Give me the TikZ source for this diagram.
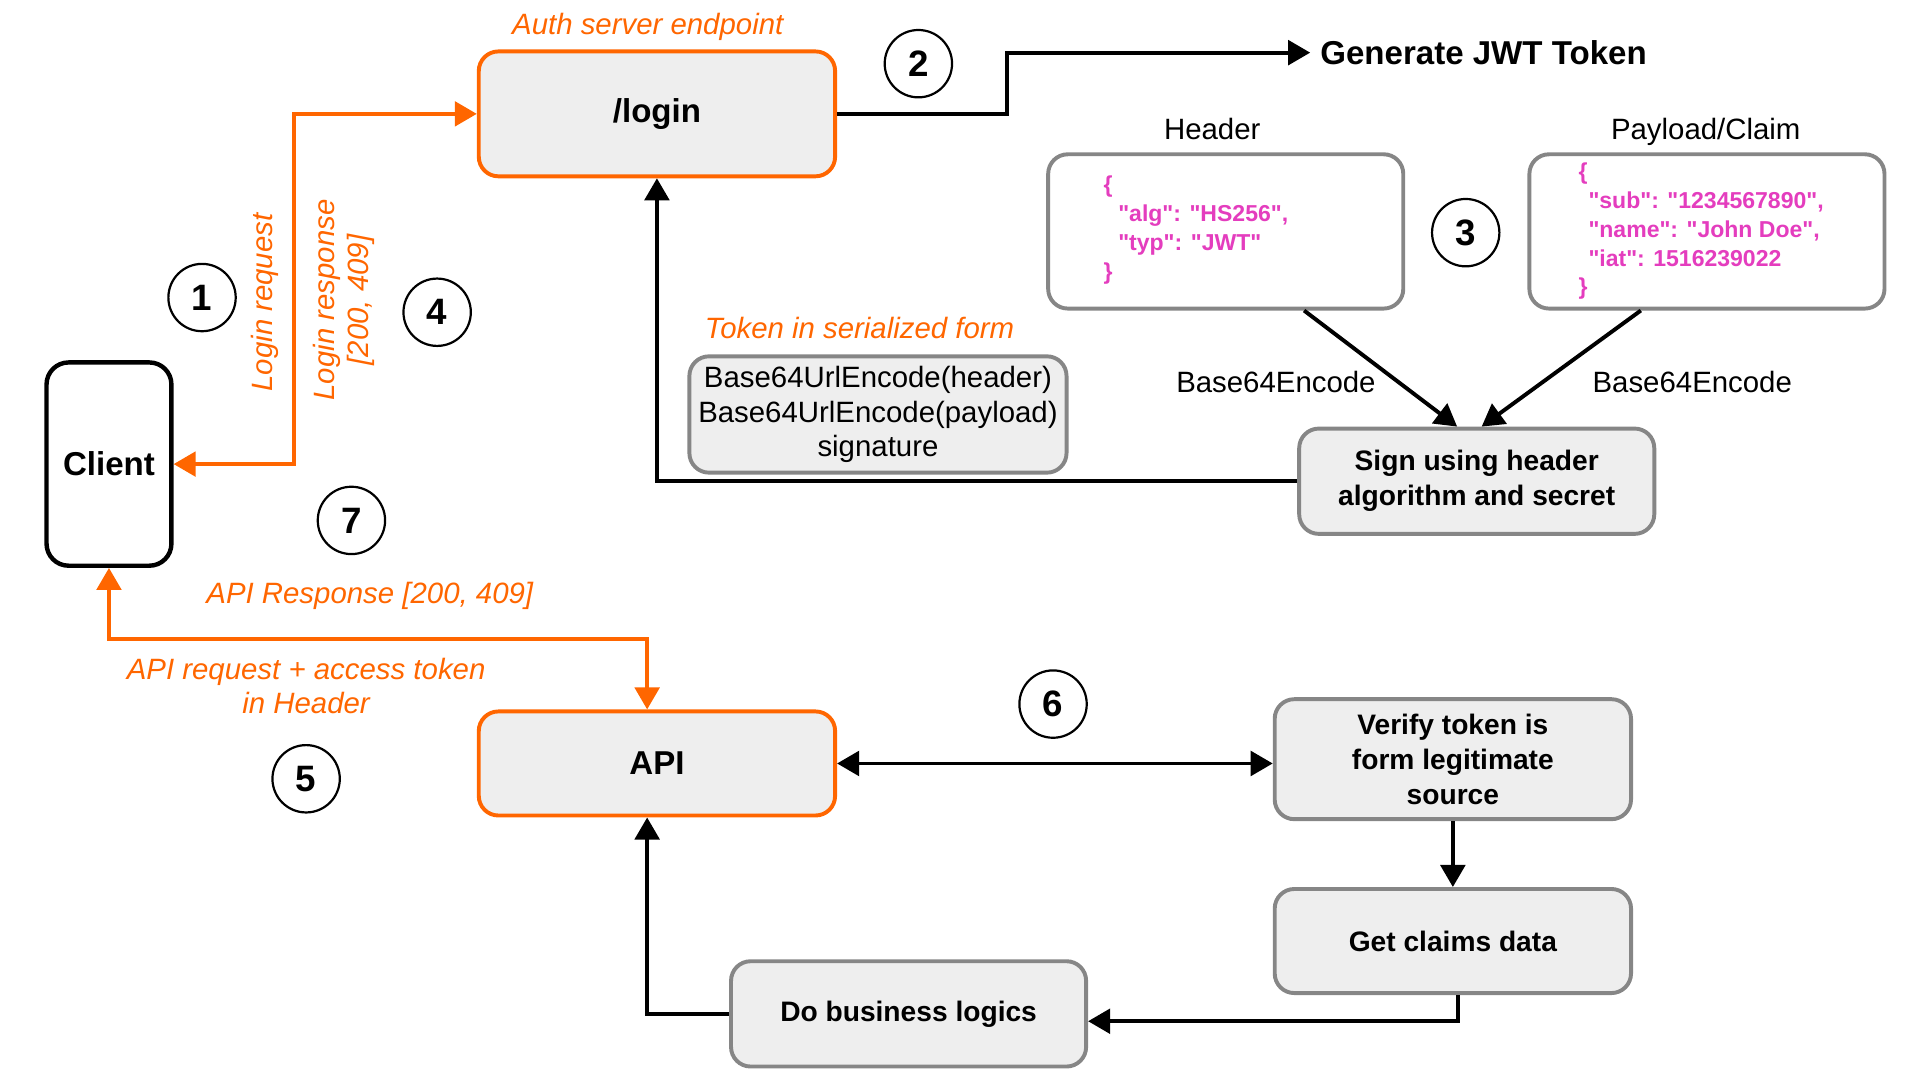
\documentclass[tikz,border=0pt]{standalone}
\usepackage{fontspec}
\setmainfont{Liberation Sans}
\newfontfamily\codefont{Liberation Sans}
\usetikzlibrary{arrows.meta,positioning,calc}
\definecolor{authorange}{HTML}{FF6600}
\definecolor{boxgray}{HTML}{868686}
\definecolor{boxfill}{HTML}{EEEEEE}
\definecolor{codepink}{HTML}{E43DBE}
\tikzset{
    -{Triangle[length=9pt,width=10pt]},
    orangebox/.style ={rectangle, rounded corners=8pt, draw=authorange, line width=1.6pt, fill=boxfill, minimum width=145.5pt, font=\fontsize{13.5}{16}\selectfont\bfseries},
    graybox/.style = {rectangle, rounded corners=8pt, draw=boxgray, line width=1.6pt, fill=boxfill, minimum width=145pt, align=center, font=\fontsize{11.5}{14.3}\selectfont\bfseries},
    codebox/.style = {graybox, fill=white, minimum height=63pt},
    code/.style = {anchor=west, align=left, text=codepink, font=\codefont\fontsize{9.4}{11.75}\selectfont\bfseries},
    num/.style = {circle, draw, line width=0.9pt, minimum size=27.5pt, inner sep=0pt, font=\fontsize{15}{15}\selectfont\bfseries},
    note/.style = {text=authorange, align=center, font=\fontsize{12}{14}\selectfont\itshape},
    lbl/.style = {align=center, font=\fontsize{12}{14.25}\selectfont},
    orangeflow/.style = {draw=authorange, {Triangle[length=9pt,width=10pt]}-{Triangle[length=9pt,width=10pt]}},
    both/.style = {{Triangle[length=9pt,width=10pt]}-{Triangle[length=9pt,width=10pt]}}
}

\begin{document}
\begin{tikzpicture}[x=0.5pt,y=-0.5pt,line width=1.6pt]

    \useasboundingbox (0,0) rectangle (1568,882);

    % auth server side
    \node[orangebox, minimum height=51pt] (login) at (536.5,93) {/login};
    \node[note] (authlbl) at (529,22) {Auth server endpoint};
    \node[anchor=west, font=\fontsize{13.5}{16}\selectfont\bfseries] (gen) at (1070,43) {Generate JWT Token};

    \node[codebox] (hdr) at (1001,189) {};
    \node[codebox] (pay) at (1394,189) {};
    \node[lbl, anchor=base] (hdrlbl) at (990,114) {Header};
    \node[lbl, anchor=base] (paylbl) at (1393,114) {Payload/Claim};
    \node[code] (hdrcode) at (893,188) {\{\\\hspace*{6pt}"alg": "HS256",\\\hspace*{6pt}"typ": "JWT"\\\}};
    \node[code] (paycode) at (1281,189) {\{\\\hspace*{4pt}"sub": "1234567890",\\\hspace*{4pt}"name": "John Doe",\\\hspace*{4pt}"iat": 1516239022\\\}};

    \node[graybox, minimum height=43pt] (sign) at (1206,393) {Sign using header\\algorithm and secret};
    \node[graybox, minimum width=154pt, minimum height=47.5pt, font=\fontsize{12}{14.25}\selectfont] (serial) at (717,338.5) {Base64UrlEncode(header)\\Base64UrlEncode(payload)\\signature};
    \node[note] (seriallbl) at (702,268) {Token in serialized form};

    \node[lbl] (enc1) at (1042,312) {Base64Encode};
    \node[lbl] (enc2) at (1382,312) {Base64Encode};

    % client
    \node[rectangle, rounded corners=9pt, draw, line width=1.8pt, fill=white, minimum width=51pt, minimum height=83pt, font=\fontsize{13.5}{16}\selectfont\bfseries] (client) at (89,379) {Client};
    \node[note, rotate=90] (loginreq) at (216,247) {Login request};
    \node[note, rotate=90] (loginres) at (281,245) {Login response\\{}[200, 409]};
    \node[note] (apires) at (302,487) {API Response [200, 409]};
    \node[note] (apireq) at (250,560) {API request + access token\\in Header};

    % api side
    \node[orangebox, minimum height=42.5pt] (api) at (536.5,623.5) {API};
    \node[graybox, minimum width=145.5pt, minimum height=49pt] (verify) at (1186.5,620) {Verify token is\\form legitimate\\source};
    \node[graybox, minimum width=145.5pt, minimum height=42.5pt] (claims) at (1186.5,768.5) {Get claims data};
    \node[graybox, minimum height=43pt] (biz) at (742,828) {Do business logics};

    % step numbers
    \node[num] (n1) at (165,243) {1};
    \node[num] (n2) at (750,52) {2};
    \node[num] (n3) at (1197,190) {3};
    \node[num] (n4) at (357,255) {4};
    \node[num] (n5) at (250,636) {5};
    \node[num] (n6) at (860,575) {6};
    \node[num] (n7) at (287,425) {7};

    % connectors
    \draw (login.east) -- ++(139,0) |- (gen.west);
    \draw ([xshift=32pt]hdr.south) -- ([xshift=-8pt]sign.north);
    \draw ([xshift=-27pt]pay.south) -- ([xshift=2pt]sign.north);
    \draw (sign.west) -| (login.south);
    \draw[orangeflow] (client.east) -- ++(98,0) |- (login.west);
    \draw[orangeflow] (client.south) -- ++(0,58) -| ([xshift=-4pt]api.north);
    \draw[both] (api.east) -- (api.east -| verify.west);
    \draw (verify.south) -- (claims.north);
    \draw ([xshift=2pt]claims.south) |- ([yshift=-3pt]biz.east);
    \draw (biz.west) -| ([xshift=-4pt]api.south);

\end{tikzpicture}
\end{document}
